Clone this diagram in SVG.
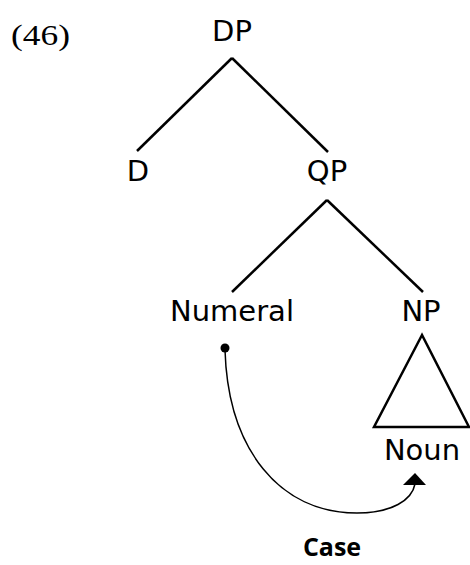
<svg xmlns="http://www.w3.org/2000/svg" width="470" height="565" viewBox="0 0 470 565">
<style>
.lbl{font-family:"DejaVu Sans","Liberation Sans",sans-serif;font-size:29px;fill:#000;text-anchor:middle}
.edge{stroke:#000;stroke-width:2.5;fill:none;stroke-linecap:butt}
.num{font-family:"Liberation Serif","DejaVu Serif",serif;font-size:29px;fill:#000}
.case{font-family:"Open Sans","Liberation Sans",sans-serif;font-size:25px;font-weight:bold;fill:#000;text-anchor:middle}
</style>
<rect width="470" height="565" fill="#fff"/>
<text class="num" x="11" y="45" textLength="59" lengthAdjust="spacingAndGlyphs">(46)</text>
<g id="connectors">
<line class="edge" x1="232" y1="58" x2="137" y2="151"/>
<line class="edge" x1="232" y1="58" x2="328" y2="152"/>
<line class="edge" x1="327" y1="200" x2="232" y2="292"/>
<line class="edge" x1="327" y1="200" x2="423" y2="292"/>
<circle cx="225" cy="348" r="4.5" fill="#000"/>
<path d="M225,350 C228,450 280,513 357,513 C392,513 412,500 415,484" fill="none" stroke="#000" stroke-width="1.5"/>
<polygon points="415,473 403,485 426,485" fill="#000"/>
</g>
<g id="DP"><text class="lbl" x="232" y="41">DP</text></g>
<g id="D"><text class="lbl" x="138" y="181">D</text></g>
<g id="QP"><text class="lbl" x="327" y="181">QP</text></g>
<g id="Numeral"><text class="lbl" x="232" y="321">Numeral</text></g>
<g id="NP"><text class="lbl" x="421" y="321">NP</text></g>
<g id="Noun">
<polygon points="422,335 374,427 469,427" fill="none" stroke="#000" stroke-width="2.5" stroke-linejoin="miter"/>
<text class="lbl" x="422" y="460">Noun</text>
</g>
<g id="Case"><text class="case" x="332" y="556">Case</text></g>
</svg>
